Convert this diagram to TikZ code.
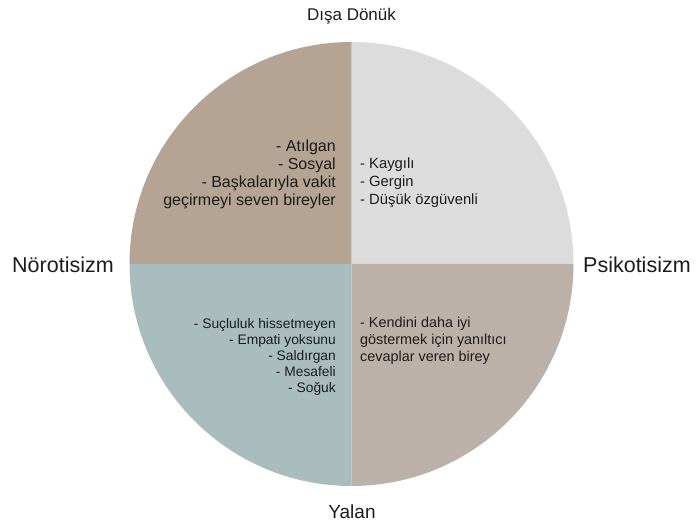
\documentclass[tikz,border=0pt]{standalone}
\usepackage{fontspec}
\setmainfont{Liberation Sans}
\definecolor{qtl}{HTML}{B5A393}
\definecolor{qtr}{HTML}{DCDCDC}
\definecolor{qbl}{HTML}{A9BDBE}
\definecolor{qbr}{HTML}{BCB1A9}
\definecolor{ink}{HTML}{1C1C1C}
\begin{document}
\begin{tikzpicture}[x=1pt,y=-1pt,
  axislabel/.style={inner sep=0pt,text=ink},
  quadtext/.style={inner sep=0pt,text=ink}]
\useasboundingbox (0,0) rectangle (697,526);
\fill[white] (0,0) rectangle (697,526);
\coordinate (c) at (351.5,264);
% four quadrants of the circle
\fill[qtl] (c) -- ++(-222,0) arc[start angle=180,end angle=90,x radius=222,y radius=-222] -- cycle;
\fill[qtr] (c) -- ++(0,-222) arc[start angle=90,end angle=0,x radius=222,y radius=-222] -- cycle;
\fill[qbr] (c) -- ++(222,0) arc[start angle=0,end angle=-90,x radius=222,y radius=-222] -- cycle;
\fill[qbl] (c) -- ++(0,222) arc[start angle=-90,end angle=-180,x radius=222,y radius=-222] -- cycle;
% axis labels
\node[axislabel,font=\fontsize{17}{20}\selectfont] (top) at (351.5,16) {Dışa Dönük};
\node[axislabel,font=\fontsize{19}{22}\selectfont] (bottom) at (352,512) {Yalan};
\node[axislabel,anchor=west,font=\fontsize{21.5}{24}\selectfont] (left) at (12,265) {Nörotisizm};
\node[axislabel,anchor=west,font=\fontsize{21.5}{24}\selectfont] (right) at (583,265) {Psikotisizm};
% quadrant descriptions
\node[quadtext,anchor=east,align=right,font=\fontsize{16}{18}\selectfont] (tl) at (336,174)
  {- Atılgan\\- Sosyal\\- Başkalarıyla vakit\\geçirmeyi seven bireyler};
\node[quadtext,anchor=west,align=left,font=\fontsize{14.8}{18}\selectfont] (tr) at (360,183)
  {- Kaygılı\\- Gergin\\- Düşük özgüvenli};
\node[quadtext,anchor=east,align=right,font=\fontsize{13.8}{16}\selectfont] (bl) at (336,357)
  {- Suçluluk hissetmeyen\\- Empati yoksunu\\- Saldırgan\\- Mesafeli\\- Soğuk};
\node[quadtext,anchor=west,align=left,font=\fontsize{14.4}{17}\selectfont] (br) at (360,341)
  {- Kendini daha iyi\\göstermek için yanıltıcı\\cevaplar veren birey};
\end{tikzpicture}
\end{document}
